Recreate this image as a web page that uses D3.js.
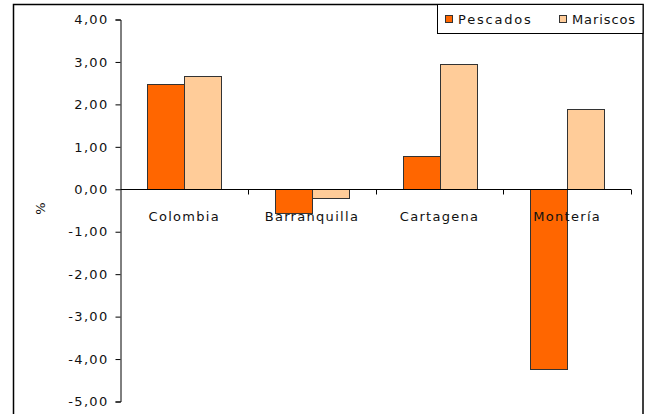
<!DOCTYPE html>
<html>
<head>
<meta charset="utf-8">
<script src="https://cdn.jsdelivr.net/npm/d3@7"></script>
<style>
  body { margin: 0; background: #fff; }
  svg text { font-family: "DejaVu Sans", Verdana, sans-serif; font-size: 13px; fill: #111; letter-spacing: 1.3px; }
</style>
</head>
<body>
<script>
const cities = ["Colombia", "Barranquilla", "Cartagena", "Montería"];
const seriesNames = ["Pescados", "Mariscos"];
const pescados = [2.47, -0.56, 0.78, -4.23];
const mariscos = [2.66, -0.2, 2.95, 1.88];
const yTicks = [4, 3, 2, 1, 0, -1, -2, -3, -4, -5];
const colors = ["#FF6600", "#FFCC99"];

const W = 648, H = 414;
const svg = d3.select("body").append("svg")
    .attr("width", W)
    .attr("height", H);

// marco exterior (sin borde inferior visible)
svg.append("rect")
    .attr("x", 13.5).attr("y", 4.5)
    .attr("width", 629.5).attr("height", 430)
    .attr("fill", "none")
    .attr("stroke", "#000")
    .attr("stroke-width", 1.5);

const plotLeft = 120.5, plotRight = 631, plotTop = 19.5, plotBottom = 401.5;

const y = d3.scaleLinear().domain([-5, 4]).range([plotBottom, plotTop]);
const x0 = d3.scaleBand().domain(cities).range([plotLeft, plotRight]).padding(0);
const barW = 37;
const x1 = d3.scaleBand().domain(seriesNames).range([0, barW * 2]).padding(0);

const data = cities.map((c, i) => ({ city: c, values: [pescados[i], mariscos[i]] }));

// barras
const groups = svg.selectAll("g.grupo")
    .data(data)
    .enter().append("g")
    .attr("class", "grupo")
    .attr("transform", d => `translate(${Math.round(x0(d.city) + x0.bandwidth() / 2 - barW)},0)`);

groups.selectAll("rect")
    .data(d => d.values.map((v, j) => ({ v, s: seriesNames[j], j })))
    .enter().append("rect")
    .attr("x", d => x1(d.s) + 0.5)
    .attr("y", d => Math.round(y(Math.max(0, d.v))) + 0.5)
    .attr("width", barW)
    .attr("height", d => Math.abs(Math.round(y(d.v)) - Math.round(y(0))))
    .attr("fill", d => colors[d.j])
    .attr("stroke", "#333")
    .attr("stroke-width", 1);

// eje y
const yAxis = svg.append("g")
    .attr("transform", `translate(${plotLeft},0)`)
    .call(d3.axisLeft(y).tickValues(yTicks).tickSize(5).tickPadding(7)
        .tickFormat(d => d3.format(".2f")(d).replace(".", ",").replace("−", "-")));
yAxis.select(".domain").attr("stroke", "#000");
yAxis.selectAll("text").style("font-size", "13px");

// eje x en cero
const zeroY = Math.round(y(0)) + 0.5;
svg.append("line")
    .attr("x1", plotLeft).attr("x2", plotRight)
    .attr("y1", zeroY).attr("y2", zeroY)
    .attr("stroke", "#000");
const bounds = cities.map(c => x0(c) + x0.bandwidth());
svg.selectAll("line.tick-x")
    .data(bounds)
    .enter().append("line")
    .attr("class", "tick-x")
    .attr("x1", d => Math.round(d) + 0.5).attr("x2", d => Math.round(d) + 0.5)
    .attr("y1", zeroY).attr("y2", zeroY + 5)
    .attr("stroke", "#000");

svg.selectAll("text.cat")
    .data(cities)
    .enter().append("text")
    .attr("class", "cat")
    .attr("x", d => x0(d) + x0.bandwidth() / 2)
    .attr("y", 221)
    .attr("text-anchor", "middle")
    .text(d => d);

// titulo del eje
svg.append("text")
    .attr("transform", "translate(45,208) rotate(-90)")
    .attr("text-anchor", "middle")
    .text("%");

// leyenda
const legend = svg.append("g");
legend.append("rect")
    .attr("x", 437.5).attr("y", 4.5)
    .attr("width", 205.5).attr("height", 29)
    .attr("fill", "#fff")
    .attr("stroke", "#000");
const legendX = [445, 559];
seriesNames.forEach((s, i) => {
    legend.append("rect")
        .attr("x", legendX[i] + 0.5).attr("y", 15.5)
        .attr("width", 7).attr("height", 7)
        .attr("fill", colors[i])
        .attr("stroke", "#333");
    legend.append("text")
        .attr("x", legendX[i] + 13)
        .attr("y", 24)
        .style("letter-spacing", i === 0 ? "1.8px" : "0.9px")
        .text(s);
});
</script>
</body>
</html>
